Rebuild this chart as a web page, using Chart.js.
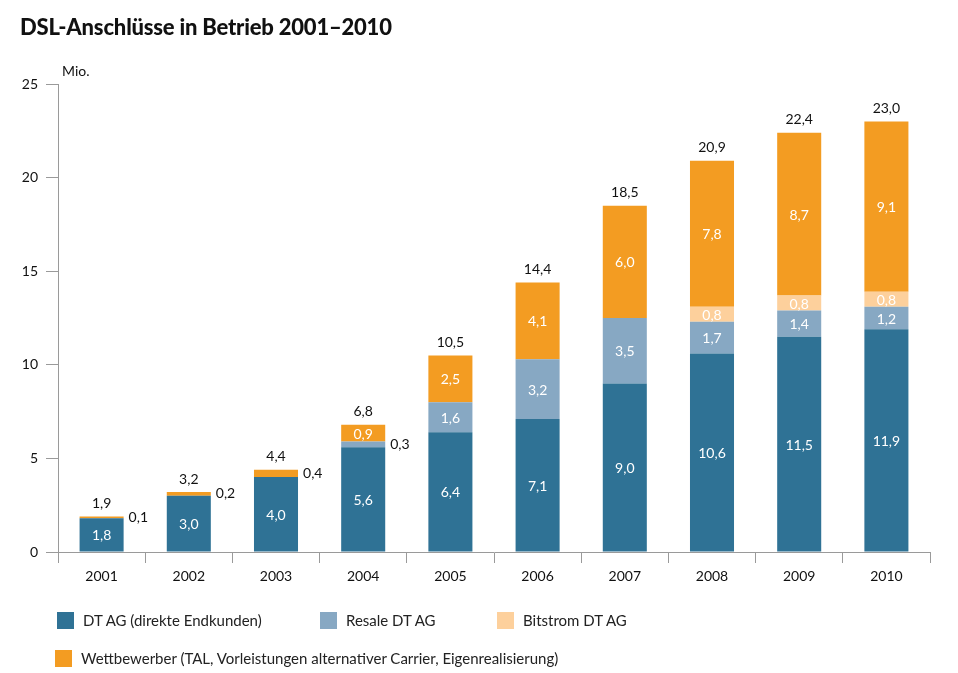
<!DOCTYPE html>
<html>
<head>
<meta charset="utf-8">
<script src="https://cdn.jsdelivr.net/npm/chart.js@4"></script>
<style>
  html, body { margin: 0; padding: 0; background: #fff; }
  #wrap { position: relative; width: 958px; height: 673px; font-family: Lato, "Open Sans", sans-serif; color: #111; }
  #chart { position: absolute; left: 0; top: 0; }
  h1 { position: absolute; left: 20px; top: 13px; margin: 0; font-size: 22px; font-weight: 900; letter-spacing: -0.2px; }
  .leg { position: absolute; font-size: 15px; line-height: 17px; color: #222; white-space: nowrap; }
  .leg i { display: inline-block; width: 17px; height: 17px; vertical-align: top; margin-right: 9px; }
</style>
</head>
<body>
<div id="wrap">
  <canvas id="chart" width="958" height="673"></canvas>
  <h1>DSL-Anschlüsse in Betrieb 2001–2010</h1>
  <div id="legend"></div>
</div>
<script>
const years = ["2001", "2002", "2003", "2004", "2005", "2006", "2007", "2008", "2009", "2010"];
const dtAg = [1.8, 3.0, 4.0, 5.6, 6.4, 7.1, 9.0, 10.6, 11.5, 11.9];
const resale = [0, 0, 0, 0.3, 1.6, 3.2, 3.5, 1.7, 1.4, 1.2];
const bitstrom = [0, 0, 0, 0, 0, 0, 0, 0.8, 0.8, 0.8];
const wettbewerber = [0.1, 0.2, 0.4, 0.9, 2.5, 4.1, 6.0, 7.8, 8.7, 9.1];
const yTicks = [0, 5, 10, 15, 20, 25];

const seriesNames = [
  "DT AG (direkte Endkunden)",
  "Resale DT AG",
  "Bitstrom DT AG",
  "Wettbewerber (TAL, Vorleistungen alternativer Carrier, Eigenrealisierung)"
];
const colors = ["#2f7295", "#87a8c3", "#fdd09c", "#f39c22"];
const legendPos = [[57, 612], [320, 612], [497, 612], [55, 650]];

const fmt = v => v.toFixed(1).replace(".", ",");
const font = "Lato, 'Open Sans', sans-serif";

// legend as html
const legendEl = document.getElementById("legend");
seriesNames.forEach((name, i) => {
  const d = document.createElement("div");
  d.className = "leg";
  d.style.left = legendPos[i][0] + "px";
  d.style.top = legendPos[i][1] + "px";
  d.innerHTML = '<i style="background:' + colors[i] + '"></i>' + name;
  legendEl.appendChild(d);
});

const valueLabels = {
  id: "valueLabels",
  afterDatasetsDraw(chart) {
    const ctx = chart.ctx;
    ctx.save();
    ctx.font = "14px " + font;
    chart.data.datasets.forEach((ds, i) => {
      const meta = chart.getDatasetMeta(i);
      meta.data.forEach((el, j) => {
        const v = ds.data[j];
        if (!v) return;
        const yMid = (el.y + el.base) / 2;
        if (v < 0.5) {
          ctx.fillStyle = "#111";
          ctx.textAlign = "left";
          ctx.textBaseline = "middle";
          ctx.fillText(fmt(v), el.x + el.width / 2 + 5, yMid);
        } else {
          ctx.fillStyle = "#fff";
          ctx.textAlign = "center";
          ctx.textBaseline = "middle";
          ctx.fillText(fmt(v), el.x, yMid + 1);
        }
      });
    });
    // totals
    const top = chart.getDatasetMeta(chart.data.datasets.length - 1);
    top.data.forEach((el, j) => {
      const sum = chart.data.datasets.reduce((a, ds) => a + ds.data[j], 0);
      ctx.fillStyle = "#111";
      ctx.textAlign = "center";
      ctx.textBaseline = "bottom";
      ctx.fillText(fmt(sum), el.x, el.y - 6);
    });
    // unit
    ctx.textAlign = "left";
    ctx.textBaseline = "middle";
    ctx.fillText("Mio.", chart.chartArea.left + 4, chart.chartArea.top - 13);
    ctx.restore();
  }
};

new Chart(document.getElementById("chart"), {
  type: "bar",
  data: {
    labels: years,
    datasets: [dtAg, resale, bitstrom, wettbewerber].map((data, i) => ({
      label: seriesNames[i],
      data: data,
      backgroundColor: colors[i],
      borderWidth: 0,
      categoryPercentage: 1,
      barPercentage: 0.505
    }))
  },
  options: {
    responsive: false,
    animation: false,
    layout: { padding: { top: 84, right: 28, bottom: 0, left: 0 } },
    plugins: {
      legend: { display: false },
      tooltip: { enabled: false }
    },
    scales: {
      x: {
        stacked: true,
        afterFit: s => { s.height = 121; },
        grid: {
          drawOnChartArea: false,
          drawTicks: true,
          tickLength: 11,
          color: "#9a9a9a",
          offset: true
        },
        border: { color: "#9a9a9a", width: 1 },
        ticks: { color: "#111", font: { family: font, size: 14 }, padding: 5 }
      },
      y: {
        stacked: true,
        min: 0,
        max: 25,
        afterFit: s => { s.width = 58; },
        afterBuildTicks: s => { s.ticks = yTicks.map(v => ({ value: v })); },
        grid: {
          drawOnChartArea: false,
          drawTicks: true,
          tickLength: 12,
          color: "#9a9a9a"
        },
        border: { color: "#9a9a9a", width: 1 },
        ticks: { color: "#111", font: { family: font, size: 14 }, padding: 8 }
      }
    }
  },
  plugins: [valueLabels]
});
</script>
</body>
</html>
